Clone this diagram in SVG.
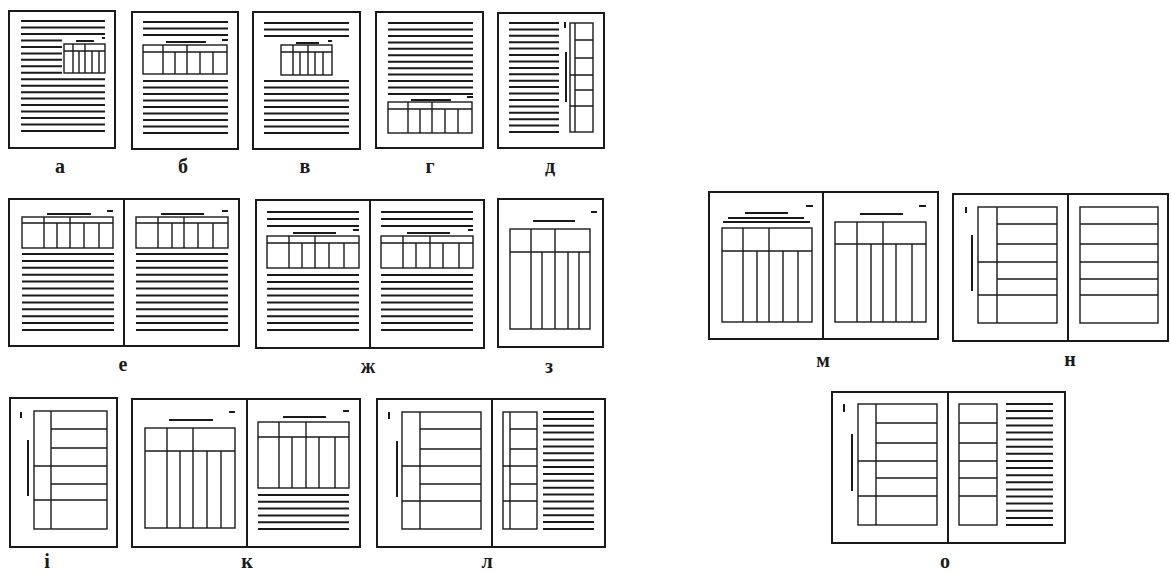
<svg xmlns="http://www.w3.org/2000/svg" width="1171" height="573" viewBox="0 0 1171 573">
<style>
.pg{fill:none;stroke:#1a1a1a;stroke-width:2}
.tx{fill:none;stroke:#1a1a1a;stroke-width:2}
.tb{fill:none;stroke:#1a1a1a;stroke-width:1.4}
.mk{fill:none;stroke:#1a1a1a;stroke-width:2}
.lbl{font-family:"Liberation Serif","DejaVu Serif",serif;font-size:20px;font-weight:bold;fill:#1a1a1a;text-anchor:middle}
</style>
<rect width="1171" height="573" fill="#ffffff"/>

<g id="page-a">
<rect class="pg" x="9" y="11" width="106" height="137"/>
<path class="tx" d="M21 21H105M21 27.5H105M21 33.9H105M21 40.4H62M21 46.9H62M21 53.4H62M21 59.8H62M21 66.3H62M21 72.8H62M21 79.2H105M21 85.7H105M21 92.2H105M21 98.6H105M21 105.1H105M21 111.6H105M21 118.1H105M21 124.5H105M21 131H105"/>
<rect class="tb" x="64" y="44" width="41" height="29"/>
<path class="tb" d="M64 51H105M73 44V73M85 44V73M79 51V73M92 51V73M99 51V73"/>
<path class="mk" d="M76 41H94M102 38H105"/>
<text class="lbl" x="60" y="173">а</text>
</g>

<g id="page-b">
<rect class="pg" x="132" y="12" width="106" height="137"/>
<path class="tx" d="M143 22H228M143 28.5H228M143 35H228M143 81H228M143 87.5H228M143 94H228M143 100.5H228M143 107H228M143 113.5H228M143 120H228M143 126.5H228M143 133H228"/>
<rect class="tb" x="143" y="45" width="84" height="29"/>
<path class="tb" d="M143 52H227M163 45V74M187 45V74M175 52V74M200 52V74M213 52V74"/>
<path class="mk" d="M166 42H206M222 40H228"/>
<text class="lbl" x="183" y="173">б</text>
</g>

<g id="page-v">
<rect class="pg" x="253" y="12" width="107" height="137"/>
<path class="tx" d="M264 23H349M264 29.5H349M264 36H349M264 81H349M264 87.5H349M264 94H349M264 100.5H349M264 107H349M264 113.5H349M264 120H349M264 126.5H349M264 133H349"/>
<rect class="tb" x="281" y="45" width="51" height="30"/>
<path class="tb" d="M281 52H332M293 45V75M308 45V75M300 52V75M315 52V75M323 52V75"/>
<path class="mk" d="M296 43H319M328 41H332"/>
<text class="lbl" x="305" y="173">в</text>
</g>

<g id="page-g">
<rect class="pg" x="376" y="12" width="107" height="136"/>
<path class="tx" d="M388 23H473M388 29.5H473M388 35.9H473M388 42.4H473M388 48.8H473M388 55.3H473M388 61.7H473M388 68.2H473M388 74.6H473M388 81.1H473M388 87.5H473M388 94H473"/>
<rect class="tb" x="388" y="102" width="84" height="31"/>
<path class="tb" d="M388 109H472M408 102V133M432 102V133M420 109V133M445 109V133M458 109V133"/>
<path class="mk" d="M411 100H451M467 97H473"/>
<text class="lbl" x="430" y="173">г</text>
</g>

<g id="page-d">
<rect class="pg" x="498" y="13" width="106" height="135"/>
<path class="tx" d="M509 23H559M509 29.4H559M509 35.8H559M509 42.2H559M509 48.6H559M509 55.1H559M509 61.5H559M509 67.9H559M509 74.3H559M509 80.7H559M509 87.1H559M509 93.5H559M509 99.9H559M509 106.4H559M509 112.8H559M509 119.2H559M509 125.6H559M509 132H559"/>
<path class="mk" d="M565 22V28M566 52V102"/>
<rect class="tb" x="570" y="23" width="23" height="109"/>
<path class="tb" d="M575 23V132M575 40H593M575 58H593M570 75H593M575 90H593M570 106H593"/>
<text class="lbl" x="550" y="173">д</text>
</g>

<g id="page-e">
<rect class="pg" x="9" y="199" width="230" height="147"/>
<path class="pg" d="M124 199V346"/>
<path class="tx" d="M22 254H114M22 260.9H114M22 267.8H114M22 274.7H114M22 281.6H114M22 288.5H114M22 295.5H114M22 302.4H114M22 309.3H114M22 316.2H114M22 323.1H114M22 330H114"/>
<rect class="tb" x="22" y="217" width="91" height="31"/>
<path class="tb" d="M22 223H113M44 217V248M70 217V248M57 223V248M84 223V248M99 223V248"/>
<path class="mk" d="M47 214H91M107 211H113"/>
<path class="tx" d="M136 254H228M136 260.9H228M136 267.8H228M136 274.7H228M136 281.6H228M136 288.5H228M136 295.5H228M136 302.4H228M136 309.3H228M136 316.2H228M136 323.1H228M136 330H228"/>
<rect class="tb" x="136" y="217" width="92" height="31"/>
<path class="tb" d="M136 223H228M158 217V248M184 217V248M172 223V248M198 223V248M213 223V248"/>
<path class="mk" d="M161 214H204M222 211H228"/>
<text class="lbl" x="123" y="371">е</text>
</g>

<g id="page-zh">
<rect class="pg" x="256" y="200" width="228" height="148"/>
<path class="pg" d="M370 200V348"/>
<path class="tx" d="M267 212H359M267 219H359M267 226H359M267 275H359M267 281.9H359M267 288.8H359M267 295.6H359M267 302.5H359M267 309.4H359M267 316.3H359M267 323.1H359M267 330H359"/>
<rect class="tb" x="267" y="236" width="92" height="32"/>
<path class="tb" d="M267 243H359M289 236V268M315 236V268M302 243V268M329 243V268M344 243V268"/>
<path class="mk" d="M293 233H336M353 230H359"/>
<path class="tx" d="M381 212H473M381 219H473M381 226H473M381 275H473M381 281.9H473M381 288.8H473M381 295.6H473M381 302.5H473M381 309.4H473M381 316.3H473M381 323.1H473M381 330H473"/>
<rect class="tb" x="381" y="236" width="92" height="32"/>
<path class="tb" d="M381 243H473M403 236V268M430 236V268M416 243V268M443 243V268M459 243V268"/>
<path class="mk" d="M407 233H450M468 230H473"/>
<text class="lbl" x="368" y="373">ж</text>
</g>

<g id="page-z">
<rect class="pg" x="498" y="199" width="105" height="148"/>
<rect class="tb" x="510" y="229" width="80" height="100"/>
<path class="tb" d="M510 252H590M531 229V329M555 229V329M542 252V329M568 252V329M579 252V329"/>
<path class="mk" d="M533 221H575M591 212H597"/>
<text class="lbl" x="549" y="373">з</text>
</g>

<g id="page-m">
<rect class="pg" x="709" y="192" width="229" height="147"/>
<path class="pg" d="M823 192V339"/>
<path class="mk" d="M806 206H813M745 213H788M728 218H804M723 222H810"/>
<rect class="tb" x="722" y="228" width="90" height="94"/>
<path class="tb" d="M722 251H812M743 228V322M769 228V322M757 251V322M783 251V322M798 251V322"/>
<path class="mk" d="M919 206H926M860 214H903"/>
<rect class="tb" x="835" y="222" width="91" height="100"/>
<path class="tb" d="M835 244H926M857 222V322M883 222V322M871 244V322M896 244V322M912 244V322"/>
<text class="lbl" x="823" y="367">м</text>
</g>

<g id="page-n">
<rect class="pg" x="953" y="194" width="215" height="147"/>
<path class="pg" d="M1068 194V341"/>
<path class="mk" d="M966 207V213M972 235V291"/>
<rect class="tb" x="978" y="207" width="79" height="116"/>
<path class="tb" d="M997 207V323M997 224H1057M997 244H1057M978 262H1057M997 279H1057M978 295H1057"/>
<rect class="tb" x="1080" y="207" width="78" height="116"/>
<path class="tb" d="M1080 224H1158M1080 244H1158M1080 262H1158M1080 279H1158M1080 295H1158"/>
<text class="lbl" x="1070" y="366">н</text>
</g>

<g id="page-i">
<rect class="pg" x="10" y="398" width="107" height="149"/>
<path class="mk" d="M21 412V418M28 440V496"/>
<rect class="tb" x="34" y="411" width="73" height="118"/>
<path class="tb" d="M51 411V529M51 429H107M51 448H107M34 466H107M51 484H107M34 500H107"/>
<text class="lbl" x="47" y="568">і</text>
</g>

<g id="page-k">
<rect class="pg" x="132" y="399" width="228" height="148"/>
<path class="pg" d="M247 399V547"/>
<path class="mk" d="M229 412H235M169 420H213"/>
<rect class="tb" x="145" y="428" width="90" height="100"/>
<path class="tb" d="M145 451H235M167 428V528M193 428V528M180 451V528M207 451V528M221 451V528"/>
<path class="mk" d="M343 411H349M283 417H326"/>
<rect class="tb" x="258" y="422" width="91" height="66"/>
<path class="tb" d="M258 437H349M279 422V488M306 422V488M292 437V488M319 437V488M335 437V488"/>
<path class="tx" d="M258 495H349M258 501.8H349M258 508.6H349M258 515.4H349M258 522.2H349M258 529H349"/>
<text class="lbl" x="247" y="568">к</text>
</g>

<g id="page-l">
<rect class="pg" x="377" y="399" width="228" height="148"/>
<path class="pg" d="M492 399V547"/>
<path class="mk" d="M389 412V419M397 441V497"/>
<rect class="tb" x="402" y="412" width="79" height="117"/>
<path class="tb" d="M420 412V529M420 429H481M420 449H481M402 466H481M420 484H481M402 501H481"/>
<rect class="tb" x="503" y="412" width="34" height="117"/>
<path class="tb" d="M510 412V529M510 429H537M510 449H537M503 466H537M510 484H537M503 501H537"/>
<path class="tx" d="M543 412H594M543 418.9H594M543 425.8H594M543 432.6H594M543 439.5H594M543 446.4H594M543 453.3H594M543 460.2H594M543 467.1H594M543 473.9H594M543 480.8H594M543 487.7H594M543 494.6H594M543 501.5H594M543 508.4H594M543 515.2H594M543 522.1H594M543 529H594"/>
<text class="lbl" x="487" y="568">л</text>
</g>

<g id="page-o">
<rect class="pg" x="832" y="392" width="233" height="151"/>
<path class="pg" d="M948 392V543"/>
<path class="mk" d="M844 404V412M852 434V491"/>
<rect class="tb" x="858" y="404" width="79" height="121"/>
<path class="tb" d="M876 404V525M876 423H937M876 443H937M858 461H937M876 478H937M858 496H937"/>
<rect class="tb" x="959" y="404" width="38" height="121"/>
<path class="tb" d="M959 423H997M959 443H997M959 461H997M959 478H997M959 496H997"/>
<path class="tx" d="M1006 404H1053M1006 411.1H1053M1006 418.2H1053M1006 425.4H1053M1006 432.5H1053M1006 439.6H1053M1006 446.7H1053M1006 453.8H1053M1006 460.9H1053M1006 468.1H1053M1006 475.2H1053M1006 482.3H1053M1006 489.4H1053M1006 496.5H1053M1006 503.6H1053M1006 510.8H1053M1006 517.9H1053M1006 525H1053"/>
<text class="lbl" x="945" y="568">о</text>
</g>
</svg>
